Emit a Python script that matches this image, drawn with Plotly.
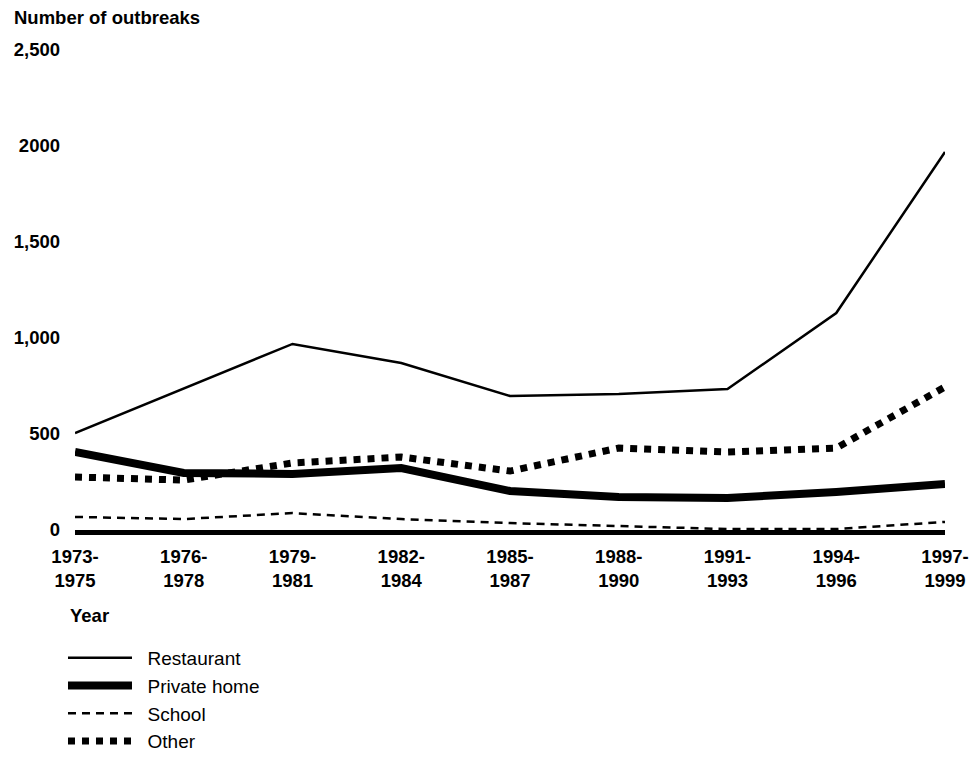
import plotly.graph_objects as go

periods = ["1973-<br>1975", "1976-<br>1978", "1979-<br>1981", "1982-<br>1984", "1985-<br>1987",
           "1988-<br>1990", "1991-<br>1993", "1994-<br>1996", "1997-<br>1999"]
restaurant = [505, 735, 969, 870, 698, 708, 734, 1130, 1969]
private_home = [406, 297, 292, 323, 203, 172, 167, 198, 240]
school = [68, 57, 88, 57, 36, 21, 5, 5, 42]
other = [276, 260, 349, 380, 307, 427, 406, 427, 745]
series_names = ["Restaurant", "Private home", "School", "Other"]

y_tickvals = [0, 500, 1000, 1500, 2000, 2500]
y_ticktext = ["0", "500", "1,000", "1,500", "2000", "2,500"]

xs = list(range(len(periods)))
FONT = "Liberation Sans, Arial, Helvetica, sans-serif"
PAD = "\u00a0\u00a0"

fig = go.Figure()
fig.add_trace(go.Scatter(x=xs, y=restaurant, mode="lines", name=PAD + series_names[0],
                         line=dict(color="black", width=2.5)))
fig.add_trace(go.Scatter(x=xs, y=private_home, mode="lines", name=PAD + series_names[1],
                         line=dict(color="black", width=8)))
fig.add_trace(go.Scatter(x=xs, y=school, mode="lines", name=PAD + series_names[2],
                         line=dict(color="black", width=2.5, dash="8px,6px")))
fig.add_trace(go.Scatter(x=xs, y=other, mode="lines", name=PAD + series_names[3],
                         line=dict(color="black", width=7, dash="7px,7px")))

fig.update_layout(
    width=961, height=744,
    margin=dict(l=67, r=24, t=42, b=222, autoexpand=False),
    plot_bgcolor="white", paper_bgcolor="white",
    font=dict(family=FONT, size=18.5, color="black"),
    showlegend=True,
    legend=dict(x=-0.0138, xanchor="left", y=-0.227, yanchor="top",
                font=dict(family=FONT, size=19, color="black"),
                itemwidth=64, tracegroupgap=0, bgcolor="rgba(0,0,0,0)"),
    xaxis=dict(range=[0, 8], tickvals=xs, ticktext=periods, showgrid=False, zeroline=False,
               showline=True, linecolor="black", linewidth=5, ticks="",
               ticklabelstandoff=6, automargin=False,
               tickfont=dict(family=FONT, size=18.5, color="black", weight="bold")),
    yaxis=dict(range=[0, 2500], tickvals=y_tickvals, ticktext=y_ticktext, showgrid=False,
               zeroline=False, showline=False, ticks="", ticklabelstandoff=14, automargin=False,
               tickfont=dict(family=FONT, size=18.5, color="black", weight="bold")),
    annotations=[
        dict(text="<b>Number of outbreaks</b>", xref="paper", yref="paper", x=-0.0724, y=1.0,
             xanchor="left", yanchor="middle", yshift=33, showarrow=False,
             font=dict(family=FONT, size=18.5, color="black")),
        dict(text="<b>Year</b>", xref="paper", yref="paper", x=-0.008, y=0, xanchor="left",
             yanchor="middle", yshift=-85, showarrow=False,
             font=dict(family=FONT, size=18.5, color="black")),
    ],
)

fig.write_html("out.html")
